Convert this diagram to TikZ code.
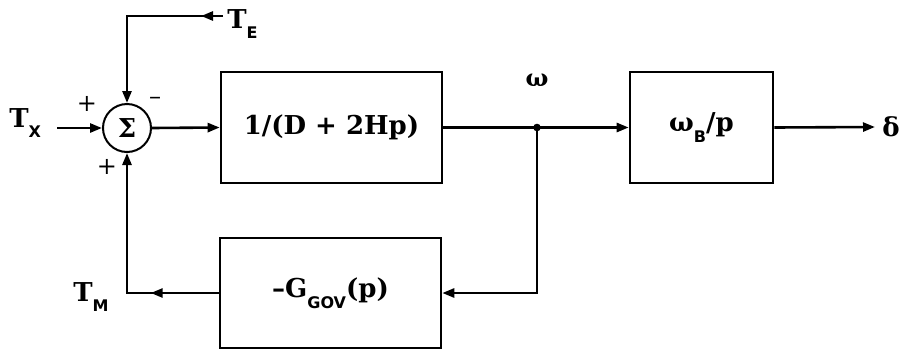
\documentclass[tikz,border=0pt]{standalone}
\usepackage{fontspec}
\setmainfont{DejaVu Serif}
\newfontfamily\subf{DejaVu Sans}
\newfontfamily\grk{DejaVu Serif}
\usetikzlibrary{arrows.meta,decorations.markings}
\newcommand{\sbs}[1]{\raisebox{-0.8ex}{\subf\bfseries\fontsize{8}{9}\selectfont #1}}
\begin{document}
\begin{tikzpicture}[x=0.5pt,y=-0.5pt,line width=1.3pt,
  >={Triangle[length=6pt,width=4.5pt]},
  every node/.style={font=\bfseries\fontsize{13}{15}\selectfont},
  blk/.style={draw,inner sep=0pt},
  sgn/.style={font=\fontsize{12}{14}\selectfont,inner sep=0pt},
  midarr/.style={postaction={decorate},decoration={markings,mark=at position #1 with {\arrow{>}}}}]
\useasboundingbox (0,0) rectangle (904,354);
% blocks
\node[draw,circle,line width=1pt,minimum size=24pt,inner sep=0pt] (sum) at (127,128) {\grk\bfseries Σ};
\node[blk,minimum width=110.5pt,minimum height=55.5pt] (b1) at (331.5,127.5) {1/(D + 2Hp)};
\node[blk,minimum width=71.5pt,minimum height=55.5pt] (b2) at (701.5,127.5) {{\grk\bfseries ω}\sbs{B}/p};
\node[blk,minimum width=110.5pt,minimum height=55pt] (b3) at (330.5,293) {–G\sbs{GOV}(p)};
% labels
\node[anchor=base west,inner sep=0pt] (tx) at (8,127) {T\sbs{X}};
\node[anchor=base west,inner sep=0pt] (te) at (226,28) {T\sbs{E}};
\node[anchor=base west,inner sep=0pt] (tm) at (72,301) {T\sbs{M}};
\node[inner sep=0pt,font=\fontsize{12}{14}\selectfont] (om) at (537,80) {\grk\bfseries ω};
\node[anchor=west,inner sep=3pt] (de) at (875,127) {\grk δ};
\node[sgn] (p1) at (87,104) {+};
\node[sgn] (m1) at (155,101) {–};
\node[sgn] (p2) at (107,167) {+};
% coordinates
\coordinate (txe) at (57,128);
\coordinate (tee) at (223,16);
\coordinate (tc) at (127,16);
\coordinate (jn) at (537,127.5);
\fill (jn) circle (1.9pt);
% connectors
\draw[->] (txe) -- (sum.west);
\draw[->,midarr=11pt] (tee) -- (tc) -- (sum.north);
\draw[->] (sum.east) -- (b1.west);
\draw[->] (b1.east) -- (b2.west);
\draw[->] (b2.east) -- (de.west);
\draw[->] (jn) -- (jn |- b3.east) -- (b3.east);
\draw[->,midarr=34pt] (b3.west) -- (sum |- b3.west) -- (sum.south);
\end{tikzpicture}
\end{document}
